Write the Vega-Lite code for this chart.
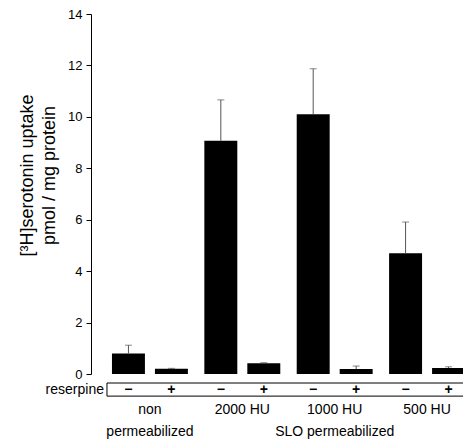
{
  "$schema": "https://vega.github.io/schema/vega-lite/v6.json",
  "width": 372,
  "height": 360,
  "autosize": {"type": "none"},
  "padding": {"left": 91, "top": 14, "right": 0, "bottom": 66},
  "config": {
    "font": "Liberation Sans",
    "view": {"stroke": null},
    "axis": {"grid": false}
  },
  "datasets": {
    "bars": [
      {"group": "non", "reserpine": "−", "value": 0.8, "upper": 1.12},
      {"group": "non", "reserpine": "+", "value": 0.2, "upper": 0.22},
      {"group": "2000 HU", "reserpine": "−", "value": 9.07, "upper": 10.66},
      {"group": "2000 HU", "reserpine": "+", "value": 0.42, "upper": 0.44},
      {"group": "1000 HU", "reserpine": "−", "value": 10.1, "upper": 11.87},
      {"group": "1000 HU", "reserpine": "+", "value": 0.19, "upper": 0.31},
      {"group": "500 HU", "reserpine": "−", "value": 4.7, "upper": 5.91},
      {"group": "500 HU", "reserpine": "+", "value": 0.23, "upper": 0.28}
    ],
    "groups": [
      {"group": "non", "line1": "non", "line2": "permeabilized"},
      {"group": "2000 HU", "line1": "2000 HU", "line2": ""},
      {"group": "1000 HU", "line1": "1000 HU", "line2": "SLO permeabilized"},
      {"group": "500 HU", "line1": "500 HU", "line2": ""}
    ]
  },
  "layer": [
    {
      "data": {"name": "bars"},
      "mark": {"type": "bar", "color": "black"},
      "encoding": {
        "x": {
          "field": "group", "type": "nominal", "axis": null,
          "scale": {"domain": ["non", "2000 HU", "1000 HU", "500 HU"], "range": [0, 395], "paddingInner": 0.07, "paddingOuter": 0.173}
        },
        "xOffset": {
          "field": "reserpine", "type": "nominal",
          "scale": {"domain": ["−", "+"], "paddingInner": 0.233, "paddingOuter": 0.116}
        },
        "y": {
          "field": "value", "type": "quantitative",
          "scale": {"domain": [0, 14], "nice": false, "zero": true},
          "axis": {
            "values": [0, 2, 4, 6, 8, 10, 12, 14],
            "title": ["[³H]serotonin uptake", "pmol / mg protein"],
            "titleFontSize": 18, "titleFontWeight": "normal", "titleColor": "black",
            "titleLineHeight": 22, "titlePadding": 9, "titleY": 161,
            "labelFontSize": 13, "labelColor": "black", "labelPadding": 4,
            "tickColor": "black", "tickSize": 5, "domainColor": "black"
          }
        }
      }
    },
    {
      "data": {"name": "bars"},
      "mark": {"type": "rule", "color": "#555", "strokeWidth": 1},
      "encoding": {
        "x": {"field": "group", "type": "nominal"},
        "xOffset": {"field": "reserpine", "type": "nominal"},
        "y": {"field": "value", "type": "quantitative"},
        "y2": {"field": "upper"}
      }
    },
    {
      "data": {"name": "bars"},
      "mark": {"type": "tick", "color": "#555", "thickness": 1, "size": 7, "orient": "horizontal"},
      "encoding": {
        "x": {"field": "group", "type": "nominal"},
        "xOffset": {"field": "reserpine", "type": "nominal"},
        "y": {"field": "upper", "type": "quantitative"}
      }
    },
    {
      "data": {"name": "groups"},
      "transform": [{"filter": "datum.group === 'non'"}],
      "mark": {"type": "rule", "color": "black", "strokeWidth": 1},
      "encoding": {
        "x": {"datum": "non", "bandPosition": 0},
        "x2": {"value": "width"},
        "y": {"datum": -0.35}
      }
    },
    {
      "data": {"name": "groups"},
      "transform": [{"filter": "datum.group === 'non'"}],
      "mark": {"type": "rule", "color": "black", "strokeWidth": 1},
      "encoding": {
        "x": {"datum": "non", "bandPosition": 0},
        "x2": {"value": "width"},
        "y": {"datum": -0.86}
      }
    },
    {
      "data": {"name": "groups"},
      "transform": [{"filter": "datum.group === 'non'"}],
      "mark": {"type": "rule", "color": "black", "strokeWidth": 1},
      "encoding": {
        "x": {"datum": "non", "bandPosition": 0},
        "y": {"datum": -0.35},
        "y2": {"datum": -0.86}
      }
    },
    {
      "data": {"name": "bars"},
      "mark": {"type": "text", "fontSize": 14, "fontWeight": "bold", "color": "black", "baseline": "middle"},
      "encoding": {
        "x": {"field": "group", "type": "nominal"},
        "xOffset": {"field": "reserpine", "type": "nominal"},
        "y": {"datum": -0.62},
        "text": {"field": "reserpine"}
      }
    },
    {
      "data": {"name": "groups"},
      "mark": {"type": "text", "fontSize": 14, "color": "black", "baseline": "middle", "align": "right", "dx": -3},
      "transform": [{"filter": "datum.group === 'non'"}],
      "encoding": {
        "x": {"datum": "non", "bandPosition": 0},
        "y": {"datum": -0.62},
        "text": {"value": "reserpine"}
      }
    },
    {
      "data": {"name": "groups"},
      "mark": {"type": "text", "fontSize": 14, "color": "black", "baseline": "middle"},
      "encoding": {
        "x": {"field": "group", "type": "nominal"},
        "y": {"datum": -1.4},
        "text": {"field": "line1"}
      }
    },
    {
      "data": {"name": "groups"},
      "mark": {"type": "text", "fontSize": 14, "color": "black", "baseline": "middle"},
      "encoding": {
        "x": {"field": "group", "type": "nominal"},
        "y": {"datum": -2.27},
        "text": {"field": "line2"}
      }
    }
  ]
}
